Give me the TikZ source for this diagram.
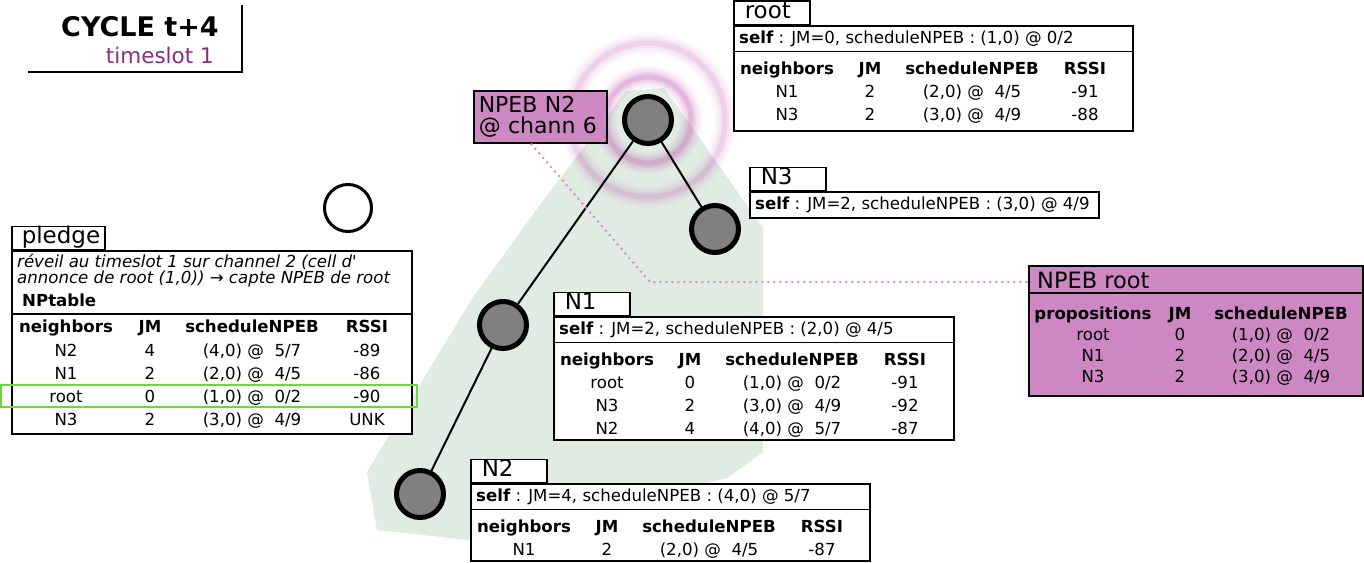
\documentclass[tikz,border=0pt]{standalone}
\usepackage{fontspec}
\setmainfont{DejaVu Sans}[ItalicFont={DejaVu Sans Oblique},BoldItalicFont={DejaVu Sans Bold Oblique}]
\usepackage{tikz}
\usetikzlibrary{calc}
\usetikzlibrary{backgrounds}
\definecolor{npebpink}{RGB}{205,136,196}
\definecolor{zonegreen}{RGB}{224,235,227}
\definecolor{slotpurple}{RGB}{140,45,125}
\definecolor{ringpink}{RGB}{190,85,175}
\definecolor{okgreen}{RGB}{102,221,51}
\definecolor{dotpink}{RGB}{215,140,205}

\begin{document}
\begin{tikzpicture}[x=1pt,y=-1pt]
\tikzstyle{mote} = [circle, draw, line width=5pt, fill=gray, minimum size=47pt, inner sep=0pt]
\tikzstyle{newmote} = [circle, draw, line width=3pt, fill=white, minimum size=47pt, inner sep=0pt]
\tikzstyle{tab} = [draw, line width=1.5pt, fill=white, anchor=north west, inner sep=0pt]
\tikzstyle{tabtitle} = [draw, line width=1.5pt, fill=white, anchor=south west, inner xsep=11pt, inner ysep=0pt, text width=54pt, align=left, text height=17.5pt, text depth=5.5pt, font=\fontsize{23}{22}\selectfont]
\tikzstyle{cell} = [inner sep=0pt, text height=12pt, text depth=0pt, font=\fontsize{16.6}{19}\selectfont]
\tikzstyle{headcell} = [cell, font=\fontsize{16.6}{19}\selectfont\bfseries]
\tikzstyle{selfcell} = [cell, anchor=west]
\useasboundingbox (0,0) rectangle (1364,562);

% motes
\node[mote] (root) at (648,120) {};
\node[mote] (n3) at (715,229) {};
\node[mote] (n1) at (503,325) {};
\node[mote] (n2) at (420,494) {};
\node[newmote] (pledge) at (348,208) {};

\begin{scope}[on background layer]
\fill[zonegreen] (626,91) -- (664,88) -- (763,228) -- (763,452) -- (727,478) -- (467,540)
    -- (377,530) -- (367,472) -- (473,297) -- (540,205) -- cycle;
\foreach \w/\o in {22/0.06,16/0.1,10/0.14,5/0.2}
    \draw[ringpink, line width=\w pt, opacity=\o] (root.center) circle (43pt);
\foreach \w/\o in {22/0.04,16/0.06,10/0.09,5/0.12}
    \draw[ringpink, line width=\w pt, opacity=\o] (root.center) circle (77pt);
\end{scope}

\draw[line width=2pt] (root) -- (n1) (root) -- (n3) (n1) -- (n2);

% cycle
\node[anchor=base east, inner sep=0pt, font=\fontsize{27}{27}\selectfont\bfseries] (cycle) at (219,36) {CYCLE t+4};
\node[anchor=base east, inner sep=0pt, text=slotpurple, font=\fontsize{21.5}{21.5}\selectfont] (slot) at (214,63) {timeslot 1};
\draw[line width=2pt] (28,72) -- (242,72) -- (242,5);

\node[draw, line width=1.5pt, fill=npebpink, anchor=north west, minimum height=52pt, text width=123pt, inner xsep=5pt, align=left, font=\fontsize{22}{21.5}\selectfont] (npebN2) at (473,90) {NPEB N2\\@ chann 6};

% root
\node[tab, minimum width=399pt, minimum height=105pt] (roottab) at (733,25) {};
\node[tabtitle] (roottitle) at (roottab.north west) {root};
\draw[line width=1.5pt] ($(roottab.north west)+(0,26.5)$) -- ($(roottab.north east)+(0,26.5)$);
\node[selfcell] (rootself) at ($(roottab.north west)+(6,12.5)$) {\textbf{self} : JM=0, scheduleNPEB : (1,0) @ 0/2};
\foreach \c/\t [count=\i] in {54/neighbors,137/JM,239/scheduleNPEB,352/RSSI}
    \node[headcell] (roothead\i) at ($(roottab.north west)+(\c,43)$) {\t};
\foreach \nbr/\jmv/\sch/\rss [count=\i] in {N1/2/{(2,0) @\ \ 4/5}/-91,N3/2/{(3,0) @\ \ 4/9}/-88}{
    \node[cell] (rootnb\i) at ($(roottab.north west)+(54,43+23*\i)$) {\nbr};
    \node[cell] (rootjm\i) at ($(roottab.north west)+(137,43+23*\i)$) {\jmv};
    \node[cell] (rootsc\i) at ($(roottab.north west)+(239,43+23*\i)$) {\sch};
    \node[cell] (rootrs\i) at ($(roottab.north west)+(352,43+23*\i)$) {\rss};
}

% N3
\node[tab, minimum width=349pt, minimum height=26pt] (n3tab) at (749,191) {};
\node[tabtitle] (n3title) at (n3tab.north west) {N3};
\node[selfcell] (n3self) at ($(n3tab.north west)+(6,12.5)$) {\textbf{self} : JM=2, scheduleNPEB : (3,0) @ 4/9};

% N1
\node[tab, minimum width=400pt, minimum height=123pt] (n1tab) at (553,316) {};
\node[tabtitle] (n1title) at (n1tab.north west) {N1};
\draw[line width=1.5pt] ($(n1tab.north west)+(0,26.5)$) -- ($(n1tab.north east)+(0,26.5)$);
\node[selfcell] (n1self) at ($(n1tab.north west)+(6,12.5)$) {\textbf{self} : JM=2, scheduleNPEB : (2,0) @ 4/5};
\foreach \c/\t [count=\i] in {54/neighbors,137/JM,239/scheduleNPEB,352/RSSI}
    \node[headcell] (n1head\i) at ($(n1tab.north west)+(\c,43)$) {\t};
\foreach \nbr/\jmv/\sch/\rss [count=\i] in {root/0/{(1,0) @\ \ 0/2}/-91,N3/2/{(3,0) @\ \ 4/9}/-92,N2/4/{(4,0) @\ \ 5/7}/-87}{
    \node[cell] (n1nb\i) at ($(n1tab.north west)+(54,43+23.3*\i)$) {\nbr};
    \node[cell] (n1jm\i) at ($(n1tab.north west)+(137,43+23.3*\i)$) {\jmv};
    \node[cell] (n1sc\i) at ($(n1tab.north west)+(239,43+23.3*\i)$) {\sch};
    \node[cell] (n1rs\i) at ($(n1tab.north west)+(352,43+23.3*\i)$) {\rss};
}

% N2
\node[tab, minimum width=399pt, minimum height=77pt] (n2tab) at (470,483) {};
\node[tabtitle] (n2title) at (n2tab.north west) {N2};
\draw[line width=1.5pt] ($(n2tab.north west)+(0,26.5)$) -- ($(n2tab.north east)+(0,26.5)$);
\node[selfcell] (n2self) at ($(n2tab.north west)+(6,12.5)$) {\textbf{self} : JM=4, scheduleNPEB : (4,0) @ 5/7};
\foreach \c/\t [count=\i] in {54/neighbors,137/JM,239/scheduleNPEB,352/RSSI}
    \node[headcell] (n2head\i) at ($(n2tab.north west)+(\c,43)$) {\t};
\node[cell] (n2nb1) at ($(n2tab.north west)+(54,66)$) {N1};
\node[cell] (n2jm1) at ($(n2tab.north west)+(137,66)$) {2};
\node[cell] (n2sc1) at ($(n2tab.north west)+(239,66)$) {(2,0) @\ \ 4/5};
\node[cell] (n2rs1) at ($(n2tab.north west)+(352,66)$) {-87};

% pledge
\node[tab, minimum width=400pt, minimum height=183pt] (pledgetab) at (11,250) {};
\node[tabtitle, text width=73pt, inner xsep=10pt] (pledgetitle) at (pledgetab.north west) {pledge};
\node[anchor=base west, align=left, inner sep=0pt, font=\fontsize{16.6}{14}\selectfont\itshape] (wakeup) at (17,283)
    {réveil au timeslot 1 sur channel 2 (cell d\textquotesingle\\annonce de root (1,0)) → capte NPEB de root};
\node[anchor=base west, inner sep=0pt, font=\fontsize{16.6}{19}\selectfont\bfseries] (nptable) at (22,306) {NPtable};
\draw[line width=1.5pt] ($(pledgetab.north west)+(0,64)$) -- ($(pledgetab.north east)+(0,64)$);
\foreach \c/\t [count=\i] in {55/neighbors,139/JM,241/scheduleNPEB,356/RSSI}
    \node[headcell] (pledgehead\i) at ($(pledgetab.north west)+(\c,76)$) {\t};
\foreach \nbr/\jmv/\sch/\rss [count=\i] in {N2/4/{(4,0) @\ \ 5/7}/-89,N1/2/{(2,0) @\ \ 4/5}/-86,root/0/{(1,0) @\ \ 0/2}/-90,N3/2/{(3,0) @\ \ 4/9}/UNK}{
    \node[cell] (pledgenb\i) at ($(pledgetab.north west)+(55,77+23*\i)$) {\nbr};
    \node[cell] (pledgejm\i) at ($(pledgetab.north west)+(139,77+23*\i)$) {\jmv};
    \node[cell] (pledgesc\i) at ($(pledgetab.north west)+(241,77+23*\i)$) {\sch};
    \node[cell] (pledgers\i) at ($(pledgetab.north west)+(356,77+23*\i)$) {\rss};
}
\draw[okgreen, line width=2pt] (1,385) rectangle (417,407);

% NPEB root
\node[tab, fill=npebpink, minimum width=334pt, minimum height=130pt] (npebroot) at (1028,265) {};
\node[anchor=base west, inner sep=0pt, font=\fontsize{22.5}{22}\selectfont] (npebroottitle) at (1037,288) {NPEB root};
\draw[line width=1.5pt] ($(npebroot.north west)+(0,28)$) -- ($(npebroot.north east)+(0,28)$);
\foreach \c/\t [count=\i] in {65/propositions,152/JM,253/scheduleNPEB}
    \node[headcell] (npebhead\i) at ($(npebroot.north west)+(\c,48)$) {\t};
\foreach \nbr/\jmv/\sch [count=\i] in {root/0/{(1,0) @\ \ 0/2},N1/2/{(2,0) @\ \ 4/5},N3/2/{(3,0) @\ \ 4/9}}{
    \node[cell] (npebnb\i) at ($(npebroot.north west)+(65,48+21*\i)$) {\nbr};
    \node[cell] (npebjm\i) at ($(npebroot.north west)+(152,48+21*\i)$) {\jmv};
    \node[cell] (npebsc\i) at ($(npebroot.north west)+(253,48+21*\i)$) {\sch};
}

\coordinate (bend) at (650,282);
\draw[dotpink, line width=2pt, dash pattern=on 2pt off 4pt]
    ($(npebN2.south west)!0.43!(npebN2.south east)$) -- (bend) -- (npebroot.west |- bend);
\end{tikzpicture}
\end{document}
